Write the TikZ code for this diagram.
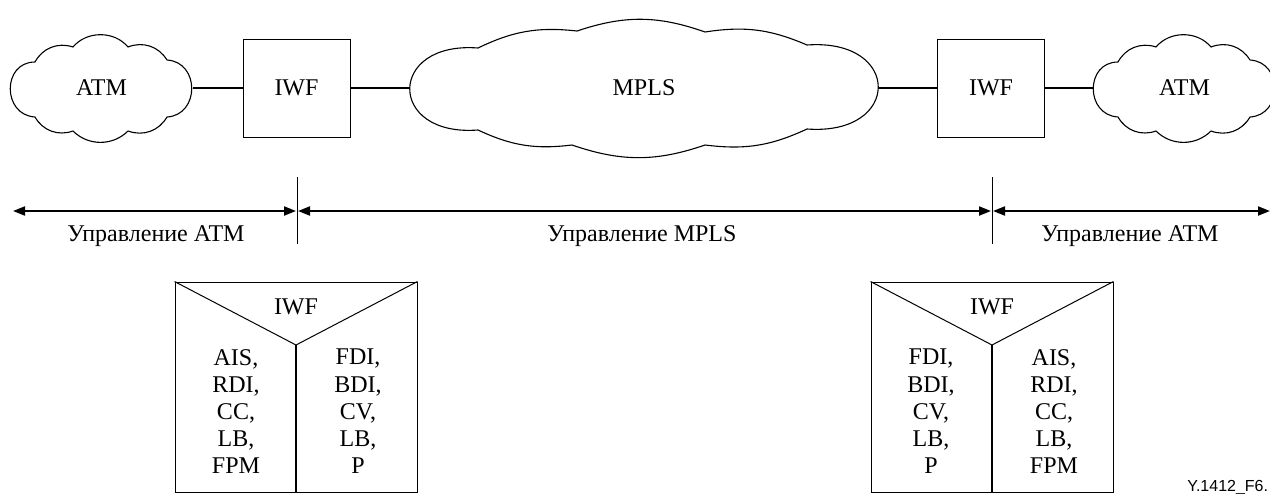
\documentclass[tikz,border=0pt]{standalone}
\usepackage{fontspec}
\setmainfont{Liberation Serif}
\newfontfamily\tagfont{Liberation Sans}
\usetikzlibrary{arrows.meta}
\begin{document}
\begin{tikzpicture}[x=0.5pt,y=-0.5pt,
  every node/.style={font=\fontsize{12}{13.6}\selectfont, inner sep=0pt},
  cloudline/.style={draw, line width=0.55pt, line join=round},
  iwfbox/.style={draw, line width=0.5pt, minimum width=53.5pt, minimum height=49pt},
  tallbox/.style={draw, line width=0.5pt, minimum width=121pt, minimum height=105pt},
  link/.style={line width=1pt},
  divider/.style={line width=0.5pt},
  span/.style={line width=1pt, {Triangle[length=6pt,width=4.5pt]}-{Triangle[length=6pt,width=4.5pt]}},
  col/.style={align=center}
]
\useasboundingbox (0,0) rectangle (1270,493);

% ATM clouds
\foreach \dx/\nm in {0/atmL,1083/atmR}{
  \begin{scope}[shift={(\dx,0)}]
    \path[cloudline] (35,62) to[bend left=40] (73,47) to[bend left=50] (128,47)
      to[bend left=40] (167,60) .. controls (200,62) and (200,115) .. (167,117)
      to[bend left=40] (128,131) to[bend left=45] (73,131) to[bend left=40] (35,117)
      .. controls (2,115) and (2,62) .. (35,62) -- cycle;
    \node (\nm) at (101.5,88) {ATM};
    \coordinate (\nm W) at (10,88);
    \coordinate (\nm E) at (193,88);
  \end{scope}
}
% MPLS cloud
\path[cloudline] (478,48) to[bend left=16] (577,31) to[bend left=19] (705,32)
  to[bend left=16] (807,45) .. controls (902,38) and (902,136) .. (807,129)
  to[bend left=16] (705,145) to[bend left=19] (572,145) to[bend left=16] (478,130)
  .. controls (387,137) and (387,41) .. (478,48) -- cycle;
\node (mpls) at (644,88) {MPLS};
\coordinate (mplsW) at (410,88);
\coordinate (mplsE) at (878,88);

\node[iwfbox] (iwfL) at (296.5,88) {IWF};
\node[iwfbox] (iwfR) at (991,88) {IWF};

\draw[link] (atmLE) -- (iwfL.west);
\draw[link] (iwfL.east) -- (mplsW);
\draw[link] (mplsE) -- (iwfR.west);
\draw[link] (iwfR.east) -- (atmRW);

% domain spans
\coordinate (d1t) at (297,177); \coordinate (d1b) at (297,244);
\coordinate (d2t) at (992,177); \coordinate (d2b) at (992,244);
\draw[divider] (d1t) -- (d1b);
\draw[divider] (d2t) -- (d2b);
\coordinate (a1) at (13,211); \coordinate (a2) at (296,211);
\coordinate (b1) at (298,211); \coordinate (b2) at (991,211);
\coordinate (c1) at (993,211); \coordinate (c2) at (1270,211);
\draw[span] (a1) -- (a2);
\draw[span] (b1) -- (b2);
\draw[span] (c1) -- (c2);
\node[anchor=base] (l1) at (156,241) {Управление ATM};
\node[anchor=base] (l2) at (642,241) {Управление MPLS};
\node[anchor=base] (l3) at (1130,241) {Управление ATM};

% bottom boxes
\node[tallbox] (bL) at (296,387) {};
\coordinate (apL) at (296,345);
\draw[line width=0.5pt] (bL.north west) -- (apL) -- (bL.north east);
\draw[line width=1pt] (apL) -- (bL.south -| apL);
\node[anchor=base] (iwfbL) at (296,314) {IWF};
\node[col] (cL1) at (236,411.5) {AIS,\\RDI,\\CC,\\LB,\\FPM};
\node[col] (cL2) at (358,411.5) {FDI,\\BDI,\\CV,\\LB,\\P};

\node[tallbox] (bR) at (992,387) {};
\coordinate (apR) at (992,345);
\draw[line width=0.5pt] (bR.north west) -- (apR) -- (bR.north east);
\draw[line width=1pt] (apR) -- (bR.south -| apR);
\node[anchor=base] (iwfbR) at (992,314) {IWF};
\node[col] (cR1) at (931,411.5) {FDI,\\BDI,\\CV,\\LB,\\P};
\node[col] (cR2) at (1054,411.5) {AIS,\\RDI,\\CC,\\LB,\\FPM};

\node[anchor=base west, font=\tagfont\fontsize{8}{9}\selectfont] (tag) at (1187,491) {Y.1412\_F6.};
\end{tikzpicture}
\end{document}
